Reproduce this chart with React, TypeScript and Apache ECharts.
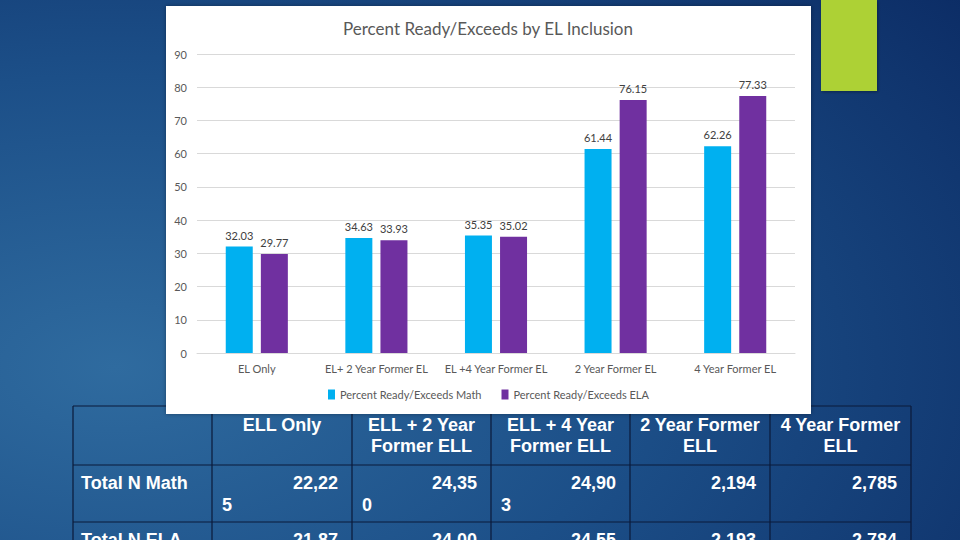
import React, { useEffect, useRef } from "react";
import * as echarts from "echarts";

const categories = ["EL Only", "EL+ 2 Year Former EL", "EL +4 Year Former EL", "2 Year Former EL", "4 Year Former EL"];
const mathValues = [32.03, 34.63, 35.35, 61.44, 62.26];
const elaValues = [29.77, 33.93, 35.02, 76.15, 77.33];
const seriesNames = ["Percent Ready/Exceeds Math", "Percent Ready/Exceeds ELA"];
const chartTitle = "Percent Ready/Exceeds by EL Inclusion";

const tableHeaders = ["", "ELL Only", "ELL + 2 Year\nFormer ELL", "ELL + 4 Year\nFormer ELL", "2 Year Former\nELL", "4 Year Former\nELL"];
const tableRowLabels = ["Total N Math", "Total N ELA"];
const tableMath = ["22,225", "24,350", "24,903", "2,194", "2,785"];
const tableEla = ["21,87", "24,00", "24,55", "2,193", "2,784"];

const colX = [73, 212, 352, 491, 630, 770, 911];
const rowY = [406, 465, 522, 580];

function buildTable(): any[] {
  const els: any[] = [];
  const lineStyle = { stroke: "#0b1a3a", lineWidth: 1.2 };
  rowY.forEach((y) => {
    els.push({ type: "line", z: -5, shape: { x1: colX[0], y1: y, x2: colX[colX.length - 1], y2: y }, style: lineStyle });
  });
  colX.forEach((x) => {
    els.push({ type: "line", z: -5, shape: { x1: x, y1: rowY[0], x2: x, y2: 540 }, style: lineStyle });
  });
  const font = { fill: "#ffffff", fontFamily: "Liberation Sans, Arial, sans-serif", fontWeight: "bold", fontSize: 18 };
  tableHeaders.forEach((h, i) => {
    if (!h) return;
    const lines = h.split("\n");
    lines.forEach((ln, k) => {
      els.push({
        type: "text", z: -4,
        x: (colX[i] + colX[i + 1]) / 2, y: rowY[0] + 19 + k * 21,
        style: { ...font, text: ln, align: "center", verticalAlign: "middle" },
      });
    });
  });
  const rows = [tableMath, tableEla];
  rows.forEach((vals, r) => {
    const yTop = rowY[r + 1];
    els.push({
      type: "text", z: -4, x: colX[0] + 8, y: yTop + 18,
      style: { ...font, text: tableRowLabels[r], align: "left", verticalAlign: "middle" },
    });
    vals.forEach((v, c) => {
      const first = v.length > 5 ? v.slice(0, 5) : v;
      const rest = v.length > 5 ? v.slice(5) : "";
      els.push({
        type: "text", z: -4, x: colX[c + 2] - 14, y: yTop + 18,
        style: { ...font, text: first, align: "right", verticalAlign: "middle" },
      });
      if (rest) {
        els.push({
          type: "text", z: -4, x: colX[c + 1] + 10, y: yTop + 40,
          style: { ...font, text: rest, align: "left", verticalAlign: "middle" },
        });
      }
    });
  });
  return els;
}

export default function App() {
  const ref = useRef<HTMLDivElement>(null);
  useEffect(() => {
    if (!ref.current) return;
    const chart = echarts.init(ref.current, null, { renderer: "svg" });
    const txt = "#595959";
    chart.setOption({
      animation: false,
      backgroundColor: {
        type: "radial", x: 0.12, y: 0.68, r: 1.2,
        colorStops: [
          { offset: 0, color: "#2f6b9f" },
          { offset: 0.45, color: "#1c4f88" },
          { offset: 1, color: "#0a2861" },
        ],
      },
      graphic: [
        ...buildTable(),
        {
          type: "rect", z: -3, shape: { x: 166, y: 6, width: 645, height: 408 },
          style: { fill: "#ffffff", shadowBlur: 4, shadowColor: "rgba(0,0,0,0.35)" },
        },
        {
          type: "rect", z: -3, shape: { x: 821, y: 0, width: 56, height: 91 },
          style: { fill: "#add136", shadowBlur: 3, shadowOffsetX: 1, shadowOffsetY: 1, shadowColor: "rgba(0,0,0,0.35)" },
        },
      ],
      title: {
        text: chartTitle, left: 483, top: 15, textAlign: "center",
        textStyle: { color: txt, fontFamily: "Lato", fontWeight: "normal", fontSize: 17 },
      },
      legend: {
        data: seriesNames, top: 384, left: 323, itemGap: 20,
        itemWidth: 7, itemHeight: 10, icon: "rect",
        textStyle: { color: txt, fontFamily: "Lato", fontSize: 11 },
      },
      grid: { left: 197, right: 165, top: 54, bottom: 187 },
      xAxis: {
        type: "category", data: categories,
        axisLine: { lineStyle: { color: "#d9d9d9" } },
        axisTick: { show: false },
        axisLabel: { color: txt, fontFamily: "Lato", fontSize: 11, margin: 10, interval: 0 },
      },
      yAxis: {
        type: "value", min: 0, max: 90, interval: 10,
        axisLine: { show: false }, axisTick: { show: false },
        splitLine: { lineStyle: { color: "#d9d9d9" } },
        axisLabel: { color: txt, fontFamily: "Lato", fontSize: 11, margin: 10 },
      },
      series: [
        {
          name: seriesNames[0], type: "bar", data: mathValues, barWidth: 27, barGap: "30%",
          itemStyle: { color: "#00b0f0" },
          label: { show: true, position: "top", distance: 6, color: "#404040", fontFamily: "Lato", fontSize: 11 },
        },
        {
          name: seriesNames[1], type: "bar", data: elaValues, barWidth: 27,
          itemStyle: { color: "#7030a0" },
          label: { show: true, position: "top", distance: 6, color: "#404040", fontFamily: "Lato", fontSize: 11 },
        },
      ],
    });
    return () => chart.dispose();
  }, []);
  return <div ref={ref} style={{ position: "absolute", left: 0, top: 0, width: 960, height: 540 }} />;
}
